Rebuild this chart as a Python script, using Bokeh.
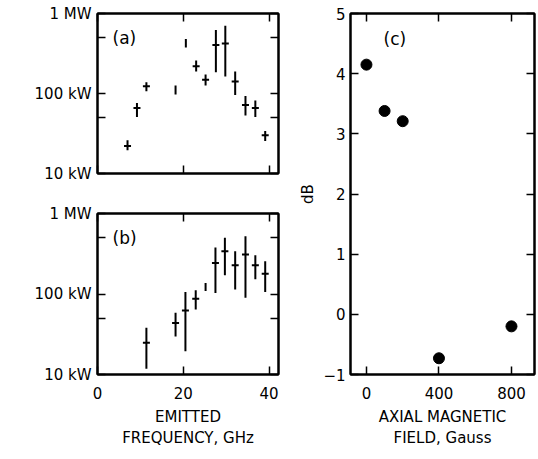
from bokeh.plotting import figure
from bokeh.models import FixedTicker, LogAxis, LinearAxis, Label, Range1d, ColumnDataSource, CustomJSTickFormatter
from bokeh.layouts import row, column
from bokeh.embed import file_html
from bokeh.resources import INLINE

# ---------------- data ----------------
# panel (a): emitted power vs frequency (kW)
a_freq = [7.0, 9.2, 11.4, 18.2, 20.6, 23.0, 25.2, 27.6, 29.8, 32.1, 34.5, 36.8, 39.1]
a_power = [22, 66, 123, 111, 427, 219, 149, 403, 423, 141, 72, 66, 30]
a_low = [19.5, 51, 107, 97, 376, 188, 126, 184, 163, 96, 53, 51, 25.5]
a_high = [26, 76, 138, 126, 480, 258, 173, 621, 701, 189, 93, 82, 34]
a_cross = [1, 1, 1, 0, 0, 1, 1, 1, 1, 1, 1, 1, 1]

# panel (b)
b_freq = [11.4, 18.2, 20.5, 22.9, 25.2, 27.5, 29.7, 32.1, 34.5, 36.8, 39.1]
b_power = [24.8, 43.5, 62.6, 87.5, 122, 243, 340, 227, 309, 227, 179]
b_low = [11.8, 29.7, 19.5, 64.4, 109, 103, 171, 114, 90, 152, 106]
b_high = [38, 58.6, 106, 111, 137, 378, 498, 340, 522, 303, 255]
b_cross = [1, 1, 1, 1, 0, 1, 1, 1, 1, 1, 1]

# panel (c): dB vs axial magnetic field
c_field = [0, 100, 200, 400, 800]
c_db = [4.15, 3.38, 3.21, -0.73, -0.2]

power_ticks = [10, 100, 1000]
power_minor = [50, 500]
power_labels = {10: "10 kW", 100: "100 kW", 1000: "1 MW"}
freq_ticks = [0, 20, 40]
field_ticks = [0, 400, 800]
db_ticks = [-1, 0, 1, 2, 3, 4, 5]

FONT = "DejaVu Sans"
FS = "15px"
BOTTOM = 84


def style_axis(ax, show_labels=True):
    ax.axis_line_color = "black"
    ax.axis_line_width = 2
    ax.major_tick_in = 8
    ax.major_tick_out = 0
    ax.minor_tick_in = 8
    ax.minor_tick_out = 0
    ax.major_tick_line_width = 1.5
    ax.minor_tick_line_width = 1.5
    ax.major_tick_line_color = "black"
    ax.minor_tick_line_color = "black"
    ax.major_label_text_font = FONT
    ax.major_label_text_font_size = FS
    ax.major_label_text_color = "black"
    ax.axis_label_text_font = FONT
    ax.axis_label_text_font_size = FS
    ax.axis_label_text_font_style = "normal"
    ax.axis_label_text_color = "black"
    if not show_labels:
        ax.formatter = CustomJSTickFormatter(code="return ''")
        ax.major_label_standoff = 0


def power_panel(freq, power, low, high, cross, tag, bottom_labels, height, top_border, bottom_border, frame_h):
    p = figure(width=290, height=height, y_axis_type="log",
               x_range=Range1d(0, 42.2), y_range=Range1d(10, 1000),
               output_backend="svg", toolbar_location=None,
               min_border_left=97, min_border_right=12,
               min_border_top=top_border, min_border_bottom=bottom_border)
    p.grid.visible = False
    p.outline_line_color = "black"
    p.outline_line_width = 2
    p.background_fill_color = "white"
    p.border_fill_color = "white"

    # left axis
    yl = p.yaxis[0]
    yl.ticker = FixedTicker(ticks=power_ticks, minor_ticks=power_minor)
    yl.major_label_overrides = power_labels
    style_axis(yl)
    yl.major_label_standoff = 6
    # right axis (ticks only)
    yr = LogAxis(ticker=FixedTicker(ticks=power_ticks, minor_ticks=power_minor))
    style_axis(yr, False)
    p.add_layout(yr, "right")
    # bottom axis
    xb = p.xaxis[0]
    xb.ticker = FixedTicker(ticks=freq_ticks)
    style_axis(xb, bottom_labels)
    if bottom_labels:
        xb.major_label_standoff = 12
        xb.axis_label = "EMITTED\nFREQUENCY, GHz"
        xb.axis_label_standoff = 6
    # top axis (ticks only)
    xt = LinearAxis(ticker=FixedTicker(ticks=freq_ticks))
    style_axis(xt, False)
    p.add_layout(xt, "above")

    src = ColumnDataSource(dict(x=freq, y=power, lo=low, hi=high))
    p.segment(x0="x", y0="lo", x1="x", y1="hi", source=src, line_width=2, line_color="black")
    cx = [f for f, c in zip(freq, cross) if c]
    cy = [v for v, c in zip(power, cross) if c]
    p.scatter(cx, cy, marker="dash", size=7, line_width=2, line_color="black")

    p.add_layout(Label(x=15, y=frame_h - 14, x_units="screen", y_units="screen", text=tag,
                       text_font=FONT, text_font_size="17px", text_baseline="top",
                       text_color="black"))
    return p


pa = power_panel(a_freq, a_power, a_low, a_high, a_cross, "(a)", False, 193, 13, 20, 160)
pb = power_panel(b_freq, b_power, b_low, b_high, b_cross, "(b)", True, 20 + 161 + BOTTOM, 20, BOTTOM, 161)

# panel (c)
pc = figure(width=248, height=13 + 361 + BOTTOM, x_range=Range1d(-88, 927), y_range=Range1d(-1, 5),
            output_backend="svg", toolbar_location=None,
            min_border_left=60, min_border_right=4, min_border_top=13, min_border_bottom=BOTTOM)
pc.grid.visible = False
pc.outline_line_color = "black"
pc.outline_line_width = 2
yl = pc.yaxis[0]
yl.ticker = FixedTicker(ticks=db_ticks)
style_axis(yl)
yl.major_label_standoff = 5
yl.axis_label = "dB"
yl.axis_label_standoff = 3
yr = LinearAxis(ticker=FixedTicker(ticks=db_ticks))
style_axis(yr, False)
pc.add_layout(yr, "right")
xb = pc.xaxis[0]
xb.ticker = FixedTicker(ticks=field_ticks)
style_axis(xb)
xb.major_label_standoff = 12
xb.axis_label = "AXIAL MAGNETIC\nFIELD, Gauss"
xb.axis_label_standoff = 6
xt = LinearAxis(ticker=FixedTicker(ticks=field_ticks))
style_axis(xt, False)
pc.add_layout(xt, "above")
pc.scatter(c_field, c_db, size=11, color="black")
pc.add_layout(Label(x=33, y=361 - 15, x_units="screen", y_units="screen", text="(c)",
                    text_font=FONT, text_font_size="17px", text_baseline="top",
                    text_color="black"))

layout = row(column(pa, pb), pc)
open("out.html", "w").write(file_html(layout, INLINE))
